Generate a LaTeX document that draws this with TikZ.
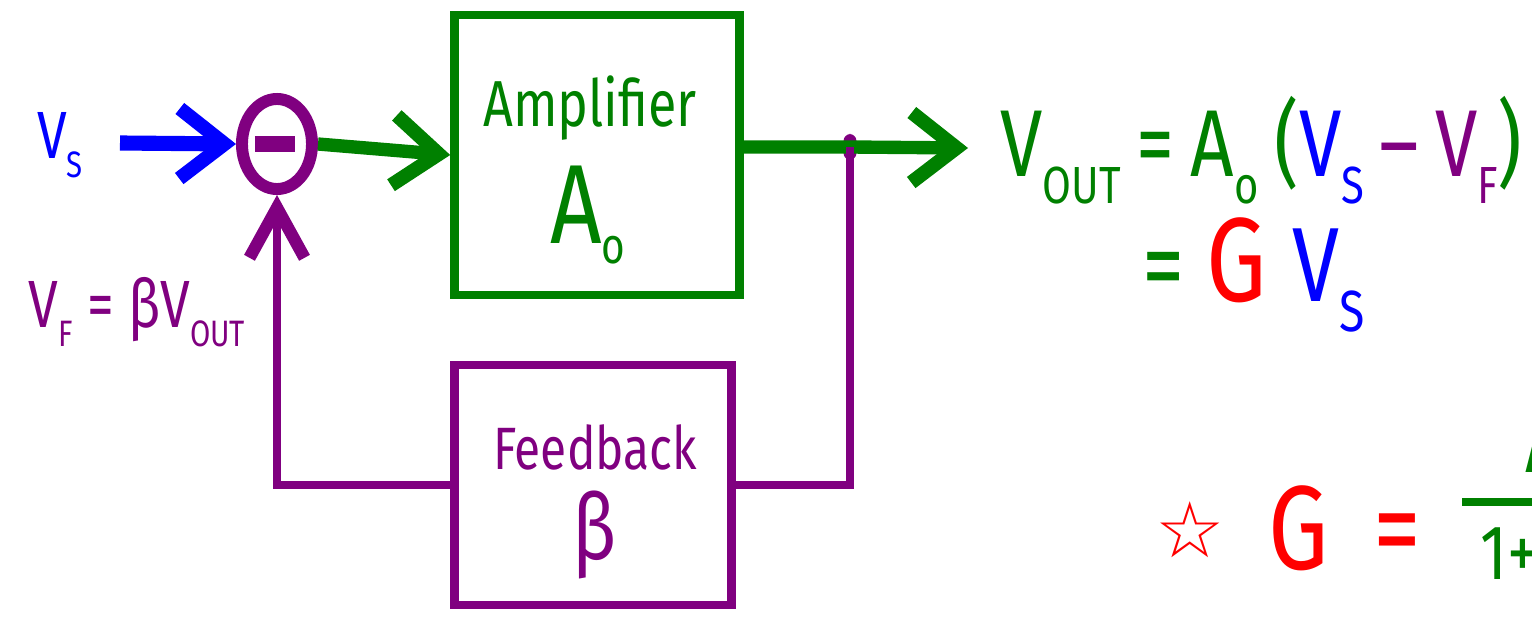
\documentclass[tikz,border=0pt]{standalone}
\usepackage{fontspec}
\usetikzlibrary{arrows.meta,shapes.geometric}
\setmainfont{Fira Sans}[FakeStretch=0.8]
\newfontfamily\starfont{DejaVu Sans}
\definecolor{ampgreen}{RGB}{0,128,0}
\definecolor{fbpurple}{RGB}{128,0,128}
\newcommand{\fsz}[1]{\fontsize{#1}{#1}\selectfont}
\newcommand{\lo}[1]{\raisebox{-.55ex}{\scalebox{.55}{#1}}}
\newcommand{\slo}[1]{\raisebox{-.35ex}{\scalebox{.45}{#1}}}
\tikzset{
	blk/.style={draw, line width=2.4pt, inner sep=0},
	fwd/.style={line width=3.8pt, -{Straight Barb[length=4.5mm,width=7mm,line width=4pt]}},
	fbline/.style={fbpurple, line width=2.3pt},
}

\begin{document}
\begin{tikzpicture}[x=0.01cm,y=-0.01cm]
	\useasboundingbox (0,0) rectangle (1532,621);
	\node[blk, draw=ampgreen, minimum width=2.85cm, minimum height=2.8cm] (amp) at (597,155) {};
	\node[ampgreen, font=\fsz{18.5}] (amplbl) at (590,108) {Amplifier};
	\node[ampgreen, font=\fsz{32}] (ampgain) at (588,215) {A\slo{o}};
	\node[blk, draw=fbpurple, minimum width=2.77cm, minimum height=2.4cm] (fb) at (593,485) {};
	\node[fbpurple, font=\fsz{17}] (fblbl) at (595,447) {Feedback};
	\node[fbpurple, font=\fsz{26}] (fbgain) at (595,535) {β};
	\node[ellipse, draw=fbpurple, line width=3.4pt, minimum width=0.7cm, minimum height=0.9cm, inner sep=0] (sum) at (277,144) {};
	\draw[fbpurple, line width=4.8pt] ([xshift=-0.22cm]sum.center) -- ([xshift=0.18cm]sum.center);
	\node[fill=fbpurple, rounded corners=2pt, inner sep=0, minimum width=0.13cm, minimum height=0.26cm] (tap) at (850,147) {};
	\coordinate (vsin) at (120,143);
	\coordinate (out) at (968,148);
	\node[blue, font=\fsz{19}] (vs) at (60,145) {V\lo{S}};
	\node[fbpurple, font=\fsz{19}] (vf) at (137,312) {V\lo{F} = βV\lo{OUT}};
	\draw[fwd, blue, line width=4.3pt] (vsin) -- (sum.west);
	\draw[fwd, ampgreen] (sum.east) -- (amp.west);
	\draw[fwd, ampgreen] (tap.center -| amp.east) -- (tap.center) -- (out);
	\draw[fbline] (tap.center) |- (fb.east);
	\draw[fbline, -{Straight Barb[length=5mm,width=5.5mm,line width=3.5pt]}] (fb.west) -| (sum.south);
	\node[anchor=west, inner sep=0, font=\fsz{27}] (eqout) at (1000,150) {\color{ampgreen}V\lo{OUT}\,=\,A\lo{o}\,(\color{blue}V\lo{S}\,\color{fbpurple}–\,V\lo{F}\color{ampgreen})};
	\node[anchor=west, font=\fsz{30}] (eqg) at (1130,275) {\color{ampgreen}= \color{red}\fsz{34}G \color{blue}\fsz{30}V\lo{S}};
	\node[red, font=\fsz{22}\starfont] (star) at (1190,530) {☆};
	\node[red, font=\fsz{34}] (geq) at (1345,528) {G\, =};
	\begin{scope}
		\clip (0,0) rectangle (1532,621);
		\node[ampgreen, anchor=west, inner sep=0, font=\fsz{26}] (num) at (1525,455) {A\lo{o}};
		\node[ampgreen, anchor=west, inner sep=0, font=\fsz{22}] (den) at (1480,562) {1+βA\lo{o}};
		\draw[ampgreen, line width=2.3pt] (1462,502) -- (1700,502);
	\end{scope}
\end{tikzpicture}
\end{document}
